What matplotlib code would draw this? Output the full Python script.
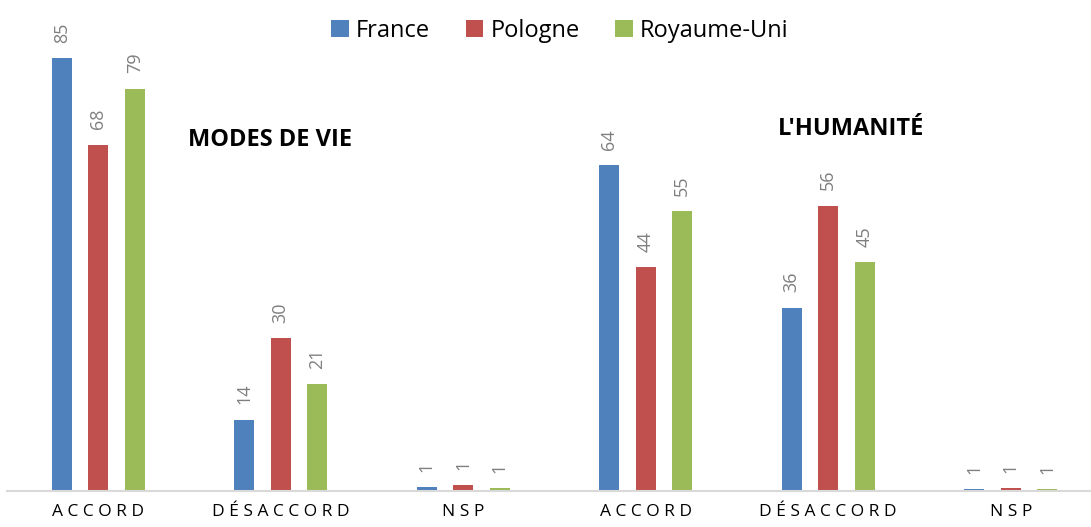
import numpy as np
import matplotlib.pyplot as plt

plt.rcParams['font.family'] = ['Open Sans', 'DejaVu Sans']

categories = ["A C C O R D", "D É S A C C O R D", "N S P",
              "A C C O R D", "D É S A C C O R D", "N S P"]
series = ["France", "Pologne", "Royaume-Uni"]
france = [85, 14, 0.8, 64, 36, 0.4]
pologne = [68, 30, 1.2, 44, 56, 0.6]
royaume = [79, 21, 0.6, 55, 45, 0.4]
labels_france = ["85", "14", "1", "64", "36", "1"]
labels_pologne = ["68", "30", "1", "44", "56", "1"]
labels_royaume = ["79", "21", "1", "55", "45", "1"]
colors = ["#4f81bd", "#c0504d", "#9bbb59"]


def main():
    fig = plt.figure(figsize=(10.91, 5.27), dpi=100)
    ax = fig.add_axes([7 / 1091, 36 / 527, 1 - 7 / 1091, 1 - 36 / 527])
    x = np.arange(len(categories))
    w = 0.11
    offs = [-0.2, 0.0, 0.2]
    data = [france, pologne, royaume]
    labs = [labels_france, labels_pologne, labels_royaume]
    for k in range(3):
        bars = ax.bar(x + offs[k], data[k], width=w, color=colors[k], label=series[k])
        for b, t in zip(bars, labs[k]):
            ax.annotate(t, (b.get_x() + b.get_width() / 2, b.get_height()),
                        xytext=(0, 11), textcoords="offset points",
                        rotation=90, ha="center", va="bottom",
                        fontsize=13, color="#7f7f7f")
    ax.set_xlim(-0.5, 5.44)
    ax.set_ylim(0, 96.4)
    ax.set_xticks(x)
    ax.set_xticklabels(categories, fontsize=12.5)
    ax.tick_params(axis="x", length=0, pad=9)
    ax.set_yticks([])
    for s in ["top", "right", "left"]:
        ax.spines[s].set_visible(False)
    ax.spines["bottom"].set_color("#d9d9d9")
    ax.spines["bottom"].set_linewidth(1.5)
    ax.text(0.49, 69, "MODES DE VIE", fontsize=17, fontweight="bold", ha="left", va="center")
    ax.text(3.726, 71, "L'HUMANITÉ", fontsize=17, fontweight="bold", ha="left", va="center")
    ax.legend(loc="upper center", bbox_to_anchor=(0.51, 1.0), ncol=3, frameon=False,
              fontsize=17, handlelength=0.75, handleheight=0.75, handletextpad=0.3,
              columnspacing=1.5, borderaxespad=0.4)
    fig.savefig("out.png", dpi=100)


if __name__ == '__main__':
    main()
